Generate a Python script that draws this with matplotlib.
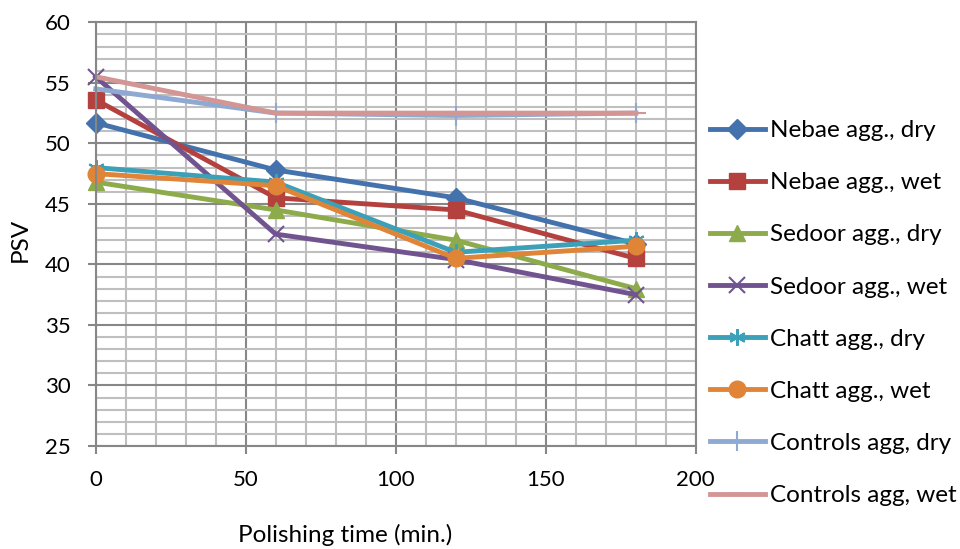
import numpy as np
import matplotlib
matplotlib.use('Agg')
import matplotlib.pyplot as plt
from matplotlib.ticker import MultipleLocator

plt.rcParams['font.family'] = ['Lato', 'DejaVu Sans']

# polishing times (min.)
times = [0, 60, 120, 180]

# PSV values
nebae_dry = [51.7, 47.8, 45.5, 41.7]
nebae_wet = [53.6, 45.5, 44.5, 40.5]
sedoor_dry = [46.8, 44.5, 42.0, 38.0]
sedoor_wet = [55.5, 42.5, 40.4, 37.5]
chatt_dry = [48.0, 46.8, 41.0, 42.0]
chatt_wet = [47.5, 46.5, 40.5, 41.5]
controls_dry = [54.5, 52.5, 52.3, 52.5]
controls_wet = [55.5, 52.5, 52.5, 52.5]

series = [
    ('Nebae agg., dry', nebae_dry, '#4372AC', 'D', 10),
    ('Nebae agg., wet', nebae_wet, '#B4413E', 's', 11),
    ('Sedoor agg., dry', sedoor_dry, '#8DAB4B', '^', 11),
    ('Sedoor agg., wet', sedoor_wet, '#71548F', 'x', 12),
    ('Chatt agg., dry', chatt_dry, '#3BA0B8', (6, 2, 0), 12),
    ('Chatt agg., wet', chatt_wet, '#E08437', 'o', 12),
    ('Controls agg, dry', controls_dry, '#8EAAD2', '|', 14),
    ('Controls agg, wet', controls_wet, '#D49595', '_', 14),
]

fig = plt.figure(figsize=(9.6, 5.49), dpi=100)
ax = fig.add_axes([0.0997, 0.1876, 0.625, 0.7718])

handles = []
for label, vals, color, marker, ms in series:
    open_marker = marker in ('x', '|', '_') or isinstance(marker, tuple)
    line, = ax.plot(times, vals, color=color, lw=3.5, marker=marker,
                    markersize=ms, markeredgecolor=color,
                    markeredgewidth=1.5 if open_marker else 1.0,
                    label=label, clip_on=(marker == '_'))
    handles.append(line)

ax.set_xlim(0, 200)
ax.set_ylim(25, 60)
ax.xaxis.set_major_locator(MultipleLocator(50))
ax.xaxis.set_minor_locator(MultipleLocator(10))
ax.yaxis.set_major_locator(MultipleLocator(5))
ax.yaxis.set_minor_locator(MultipleLocator(1))

ax.grid(which='minor', color='#BFBFBF', lw=1.5)
ax.grid(which='major', color='#878787', lw=1.5)
ax.set_axisbelow(True)
for sp in ax.spines.values():
    sp.set_color('#878787')
    sp.set_linewidth(1.5)

ax.tick_params(which='major', length=6, width=1.5, color='#878787',
               labelsize=16)
ax.tick_params(axis='y', which='major', pad=12)
ax.tick_params(axis='x', which='major', pad=11)
ax.tick_params(which='minor', length=0)

ax.set_xlabel('Polishing time (min.)', fontsize=17.5)
ax.set_ylabel('PSV', fontsize=17.5)
ax.xaxis.label.set_va('center')
ax.xaxis.set_label_coords(0.415, -0.21)
ax.yaxis.set_label_coords(-0.108, 0.486)

leg = fig.legend(handles=handles, loc='upper left',
                 bbox_to_anchor=(0.7396, 0.781), frameon=False, fontsize=17.5,
                 handlelength=2.26, handletextpad=0.2, labelspacing=1.28,
                 borderaxespad=0, borderpad=0)

fig.savefig('out.png', dpi=100)
